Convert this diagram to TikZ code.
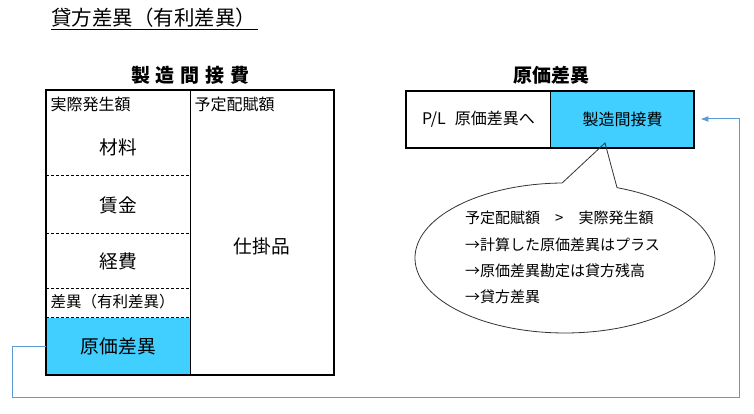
\documentclass[tikz,border=0pt]{standalone}
\usepackage{fontspec}
\setmainfont{Noto Sans CJK JP}
\usetikzlibrary{arrows.meta}
\definecolor{cellblue}{RGB}{64,207,255}
\definecolor{linkblue}{RGB}{91,155,213}
\newcommand\fsz[1]{\fontsize{#1}{#1}\selectfont}
\tikzset{
  txt/.style={inner sep=0pt, text=black},
  frame/.style={draw=black, line width=2pt},
  divider/.style={draw=black, line width=0.9pt},
  dashline/.style={draw=black, line width=0.8pt, dash pattern=on 3pt off 2pt},
  bluecell/.style={fill=cellblue, draw=none, inner sep=0pt},
  conn/.style={draw=linkblue, line width=1pt, -{Latex[length=8pt,width=6pt]}},
  bubble/.style={draw=black!80, line width=0.8pt},
}
\begin{document}
\begin{tikzpicture}[x=1pt,y=-1pt]
\useasboundingbox (0,0) rectangle (754,414);
\fill[white] (0,0) rectangle (754,414);

% page title
\node[txt, anchor=west, font=\fsz{20.5}] (title) at (51,18) {貸方差異（有利差異）};
\draw[line width=0.9pt] ([yshift=-1.5pt]title.south west) -- ([yshift=-1.5pt,xshift=2pt]title.south east);

% ---------- left T-account ----------
\node[txt, font=\bfseries\fsz{19}] (ltitle) at (190.5,75) {製\hspace{6pt}造\hspace{6pt}間\hspace{6pt}接\hspace{6pt}費};
\node[bluecell, anchor=north west, minimum width=144.3pt, minimum height=57pt] (genka) at (46,317.3) {};
\node[txt, font=\fsz{18.7}] (genkatxt) at (genka.center) {原価差異};
\node[draw=none, inner sep=0pt, anchor=north west, minimum width=288pt, minimum height=284.3pt] (lbox) at (46,90) {};
\draw[frame] (lbox.north west) rectangle (lbox.south east);
\draw[divider] (lbox.north) -- (lbox.south);
\draw[dashline] (46,175.7) -- (190,175.7);
\draw[dashline] (46,233.3) -- (190,233.3);
\draw[dashline] (46,288.3) -- (190,288.3);
\draw[dashline] (46,317.3) -- (190,317.3);

\node[txt, anchor=west, font=\fsz{16}] (jissai) at (50.5,104) {実際発生額};
\node[txt, anchor=west, font=\fsz{16}] (yotei) at (194.5,104) {予定配賦額};
\node[txt, font=\fsz{18.7}] (zairyo) at (118,147) {材料};
\node[txt, font=\fsz{18.7}] (chingin) at (118,205) {賃金};
\node[txt, font=\fsz{18.7}] (keihi) at (118,261) {経費};
\node[txt, anchor=west, font=\fsz{15.5}] (sai) at (50.5,302) {差異（有利差異）};
\node[txt, font=\fsz{18.7}] (shikake) at (262,246) {仕掛品};

% ---------- right account ----------
\node[txt, font=\bfseries\fsz{19}] (rtitle) at (551,75.5) {原価差異};
\node[bluecell, anchor=west, minimum width=143.3pt, minimum height=56.6pt] (seizo) at (550.7,119) {};
\node[txt, font=\fsz{16}] (seizotxt) at (seizo.center) {製造間接費};
\node[draw=none, inner sep=0pt, anchor=north west, minimum width=288pt, minimum height=56.6pt] (rbox) at (406,90.7) {};
\draw[frame] (rbox.north west) rectangle (rbox.south east);
\draw[divider] (550.7,90.7) -- (550.7,147.3);
\node[txt, font=\fsz{16}] (pl) at (478.5,119) {P/L\hspace{9pt}原価差異へ};

% ---------- callout ----------
\coordinate (tip) at (605,143);
\draw[bubble] (562.1,183) arc[start angle=268.9, end angle=-69.7, x radius=150, y radius=75] -- (tip) -- cycle;
\node[txt, anchor=west, align=left, font=\fontsize{15}{26.3}\selectfont] (note) at (465,257.5)
  {予定配賦額　>　実際発生額\\→計算した原価差異はプラス\\→原価差異勘定は貸方残高\\→貸方差異};

% ---------- connector ----------
\coordinate (c1) at (12,397.3);
\coordinate (c2) at (739.3,397.3);
\draw[conn, shorten >=6pt] (genka.west) -| (c1) -- (c2) |- (seizo.east);
\end{tikzpicture}
\end{document}
